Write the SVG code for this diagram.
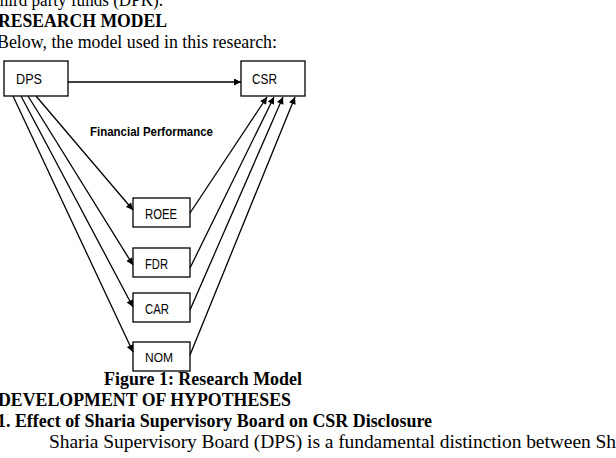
<svg xmlns="http://www.w3.org/2000/svg" width="616" height="458" viewBox="0 0 616 458">
<style>
.doc{font-family:"Liberation Serif","Times New Roman",serif;font-size:19.5px;fill:#000}
.b{font-weight:bold}
.box{fill:#fff;stroke:#000;stroke-width:1.3}
.lbl{font-family:"Liberation Sans",Arial,sans-serif;font-size:14px;fill:#000}
.big{font-size:15px}
.con{stroke:#000;stroke-width:1.3;fill:none;marker-end:url(#ah)}
</style>
<defs>
<marker id="ah" viewBox="0 0 10 10" refX="10" refY="5" markerWidth="8" markerHeight="7" markerUnits="userSpaceOnUse" orient="auto">
<path d="M0,0 L10,5 L0,10 z" fill="#000"/>
</marker>
</defs>
<rect width="616" height="458" fill="#fff"/>
<g id="text">
<text class="doc" x="-5" y="6" textLength="168" lengthAdjust="spacingAndGlyphs">third party funds (DPK).</text>
<text class="doc b" x="-2" y="27" textLength="169" lengthAdjust="spacingAndGlyphs">RESEARCH MODEL</text>
<text class="doc" x="-3" y="48" textLength="280" lengthAdjust="spacingAndGlyphs">Below, the model used in this research:</text>
<text class="doc b" x="104" y="385" textLength="198" lengthAdjust="spacingAndGlyphs">Figure 1: Research Model</text>
<text class="doc b" x="-2" y="406" textLength="293" lengthAdjust="spacingAndGlyphs">DEVELOPMENT OF HYPOTHESES</text>
<text class="doc b" x="-3" y="427" textLength="435" lengthAdjust="spacingAndGlyphs">1. Effect of Sharia Supervisory Board on CSR Disclosure</text>
<text class="doc" x="49" y="448" textLength="567" lengthAdjust="spacing">Sharia Supervisory Board (DPS) is a fundamental distinction between Sh</text>
</g>
<g id="DPS"><rect class="box" x="4" y="61" width="64" height="35"/><text class="lbl big" x="16" y="83.5" textLength="26" lengthAdjust="spacingAndGlyphs">DPS</text></g>
<g id="CSR"><rect class="box" x="241" y="61" width="64" height="35"/><text class="lbl big" x="252" y="83.5" textLength="25" lengthAdjust="spacingAndGlyphs">CSR</text></g>
<g id="label"><text class="lbl b" x="90" y="136" style="font-size:13.5px" textLength="123" lengthAdjust="spacingAndGlyphs">Financial Performance</text></g>
<g id="ROEE"><rect class="box" x="133" y="198" width="57" height="29"/><text class="lbl" x="145" y="219" textLength="32" lengthAdjust="spacingAndGlyphs">ROEE</text></g>
<g id="FDR"><rect class="box" x="133" y="248" width="57" height="29"/><text class="lbl" x="145" y="269" textLength="23" lengthAdjust="spacingAndGlyphs">FDR</text></g>
<g id="CAR"><rect class="box" x="133" y="293" width="57" height="29"/><text class="lbl" x="145" y="314" textLength="24" lengthAdjust="spacingAndGlyphs">CAR</text></g>
<g id="NOM"><rect class="box" x="133" y="342" width="57" height="29"/><text class="lbl" x="145" y="362" style="font-size:13px" textLength="28" lengthAdjust="spacingAndGlyphs">NOM</text></g>
<g id="connectors">
<line class="con" x1="68" y1="82" x2="241" y2="82"/>
<line class="con" x1="36" y1="96" x2="133" y2="210"/>
<line class="con" x1="28" y1="96" x2="133" y2="265"/>
<line class="con" x1="21" y1="96" x2="133" y2="307"/>
<line class="con" x1="13" y1="96" x2="133" y2="352"/>
<line class="con" x1="190" y1="213" x2="267" y2="97"/>
<line class="con" x1="190" y1="268" x2="274" y2="97"/>
<line class="con" x1="190" y1="310" x2="283" y2="97"/>
<line class="con" x1="190" y1="355" x2="295" y2="97"/>
</g>
</svg>
